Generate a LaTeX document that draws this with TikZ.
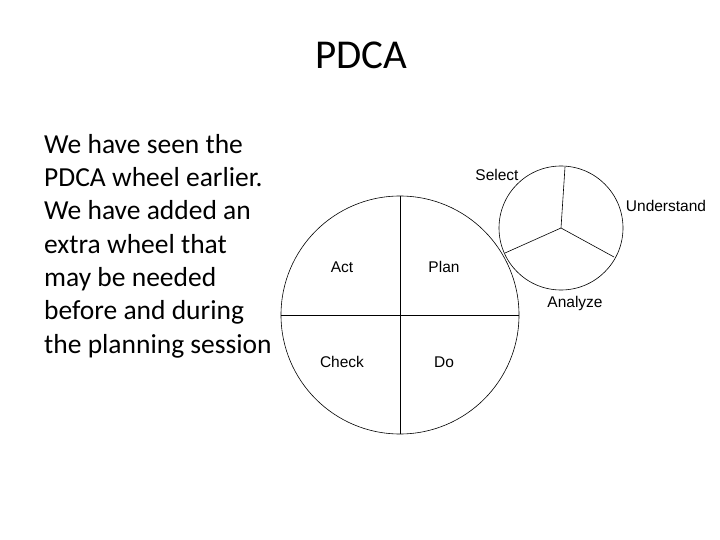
\documentclass[tikz,border=0pt]{standalone}
\usepackage{fontspec}
\setmainfont{Carlito}
\newfontfamily\arial{Liberation Sans}
\begin{document}
\begin{tikzpicture}[x=1pt,y=-1pt,
  lab/.style={font=\arial\fontsize{15.5}{18}\selectfont, inner sep=0pt},
  wheel/.style={draw=black, line width=0.6pt}]
\useasboundingbox (0,0) rectangle (720,540);
\node[font=\fontsize{41}{46}\selectfont] (title) at (361,55) {PDCA};
\node[anchor=north west, align=left, inner sep=0pt, font=\fontsize{27.5}{33.3}\selectfont] (body) at (44,134)
 {We have seen the\\PDCA wheel earlier.\\We have added an\\extra wheel that\\may be needed\\before and during\\the planning session};
% big wheel
\coordinate (c) at (400,315);
\draw[wheel] (c) circle[radius=119];
\draw[wheel] (400,196) -- (400,434);
\draw[wheel] (281,315) -- (519,315);
\node[lab] (act) at (342,267) {Act};
\node[lab] (plan) at (444,267) {Plan};
\node[lab] (check) at (342,362) {Check};
\node[lab] (do) at (444,362) {Do};
% small wheel
\coordinate (s) at (561,228);
\draw[wheel] (s) circle[radius=62];
\draw[wheel] (s) -- (565,167);
\draw[wheel] (s) -- (505,253);
\draw[wheel] (s) -- (614,257);
\node[lab] (sel) at (497,175) {Select};
\node[lab] (und) at (666,206) {Understand};
\node[lab] (ana) at (575,303) {Analyze};
\end{tikzpicture}
\end{document}
